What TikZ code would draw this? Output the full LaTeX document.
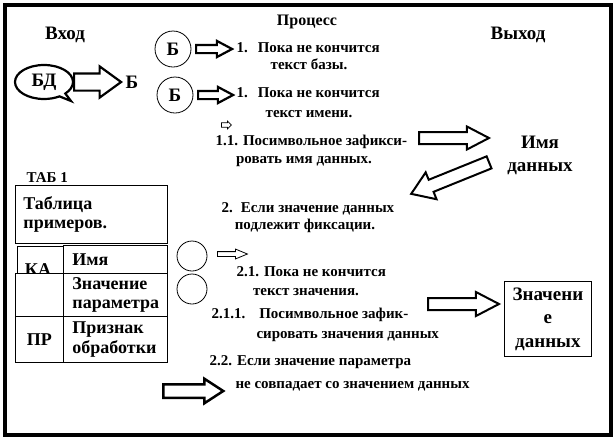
\documentclass[tikz,border=0pt]{standalone}
\usepackage{fontspec}
\setmainfont{Liberation Serif}
\usetikzlibrary{shapes.arrows,shapes.callouts}
\tikzset{
 blk/.style={single arrow,draw,line width=2pt,inner sep=0pt,minimum width=0pt,anchor=tail},
 box/.style={draw,line width=.8pt,anchor=north west,inner sep=0pt,font=\fontsize{18}{19.5}\selectfont\bfseries},
 big/.style={font=\fontsize{19}{23}\selectfont\bfseries},
 body/.style={font=\fontsize{15}{17}\selectfont\bfseries}
}
\begin{document}
\begin{tikzpicture}[x=1pt,y=-1pt,font=\bfseries]
\useasboundingbox (0,0) rectangle (616,440);
\draw[line width=3.5pt](5,5) rectangle (611,435);
% headings
\node at(65,39)[big,anchor=base](in){Вход};
\node at(307,25)[font=\fontsize{16}{18}\selectfont\bfseries,anchor=base](proc){Процесс};
\node at(518,39)[big,anchor=base](out){Выход};
% input
\node at(44,82)[ellipse callout,draw,line width=2.2pt,minimum width=58,minimum height=34,inner sep=0pt,callout absolute pointer={(71,101)},big](db){БД};
\node at(73,82)[blk,line width=2.2pt,minimum height=47,inner ysep=7.5pt,single arrow head extend=7pt,single arrow tip angle=72](a1){};
\node at(132,82)[big](b){Б};
\node at(173,49)[circle,draw,line width=.8pt,minimum size=36,inner sep=0pt,big](b1){Б};
\node at(175,95)[circle,draw,line width=.8pt,minimum size=36,inner sep=0pt,big](b2){Б};
\node at(195,49)[blk,line width=2.2pt,minimum height=36,inner ysep=3pt,single arrow head extend=4pt,single arrow tip angle=56](a2){};
\node at(197,95)[blk,line width=2.2pt,minimum height=35,inner ysep=3pt,single arrow head extend=4pt,single arrow tip angle=56](a3){};
\node at(221,125)[blk,line width=.8pt,minimum height=10,inner ysep=1.8pt,single arrow head extend=1.8pt,single arrow tip angle=90](a4){};
% process text
\foreach \x/\y/\a/\t[count=\i] in {
 233/52/base west/{1.\hspace{10pt}Пока не кончится},
 309/69/base/текст базы.,
 233/97/base west/{1.\hspace{10pt}Пока не кончится},
 309/117/base/текст имени.,
 212/145/base west/1.1. Посимвольное зафикси-,
 304/163/base/ровать имя данных.,
 218/212/base west/{2.\hspace{8pt}Если значение данных},
 305/229/base/подлежит фиксации.,
 233/276/base west/2.1. Пока не кончится,
 306/295/base/текст значения.,
 208/318/base west/{2.1.1.\hspace{14pt}Посимвольное зафик-},
 253/338/base west/сировать значения данных,
 206/365/base west/2.2. Если значение параметра,
 232/388/base west/не совпадает со значением данных%
}
\node at(\x,\y)[body,anchor=\a](t\i){\t};
% output
\node at(418,138)[blk,minimum height=70,inner ysep=5pt,single arrow head extend=5.5pt,single arrow tip angle=55](a5){};
\node at(540,155)[big,align=center](name){Имя\\данных};
\node at(490,162)[blk,rotate=202,minimum height=84,inner ysep=5.5pt,single arrow head extend=8pt,single arrow tip angle=68](a6){};
% table
\node at(23,182)[body,anchor=base west](tabno){ТАБ 1};
\node at(15,185)[box,minimum height=58,text width=136pt,inner xsep=8pt,align=left](tab){Таблица\\примеров.};
\node at(17,246)[box,minimum width=46,minimum height=29](ka){};
\node at(63,245)[box,minimum height=28,text width=86pt,inner xsep=9pt,align=left](nm){Имя};
\node at(38,270)[font=\fontsize{18}{19.5}\selectfont\bfseries](kat){КА};
\node at(15,273)[box,fill=white,minimum width=48,minimum height=43](r2){};
\node at(63,273)[box,minimum height=43,text width=86pt,inner xsep=9pt,align=left](val){Значение\\параметра};
\node at(15,316)[box,minimum width=48,minimum height=46](pr){ПР};
\node at(63,316)[box,minimum height=46,text width=86pt,inner xsep=9pt,align=left](flag){Признак\\обработки};
% values
\node at(192,256)[circle,draw,line width=.8pt,minimum size=30,inner sep=0pt](c1){};
\node at(192,289)[circle,draw,line width=.8pt,minimum size=30,inner sep=0pt](c2){};
\node at(217,254)[blk,line width=.8pt,minimum height=30,inner ysep=2pt,single arrow head extend=2.5pt,single arrow tip angle=45](a7){};
\node at(427,304)[blk,minimum height=71,inner ysep=5pt,single arrow head extend=6pt,single arrow tip angle=55](a8){};
\node at(504,281)[box,minimum width=87,minimum height=75,align=center,font=\fontsize{19}{23.5}\selectfont\bfseries](val2){Значени\\е\\данных};
\node at(162,391)[blk,line width=2.5pt,minimum height=60,inner ysep=5.5pt,single arrow head extend=5.5pt,single arrow tip angle=66](a9){};
\end{tikzpicture}
\end{document}
